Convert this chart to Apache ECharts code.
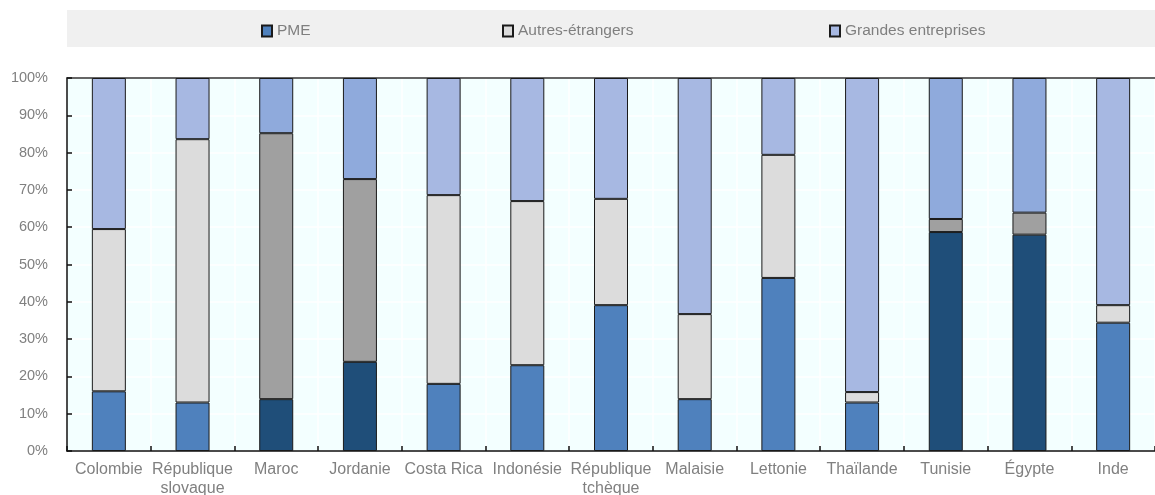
<!DOCTYPE html>
<html>
<head>
<meta charset="utf-8">
<script src="https://cdn.jsdelivr.net/npm/echarts@6/dist/echarts.min.js"></script>
<style>
  html, body { margin: 0; padding: 0; background: #fff; }
  #chart { width: 1155px; height: 495px; }
</style>
</head>
<body>
<div id="chart"></div>
<script>
// Répartition (%) par type d'entreprise et par pays
const countries = ['Colombie', 'République slovaque', 'Maroc', 'Jordanie', 'Costa Rica', 'Indonésie',
  'République tchèque', 'Malaisie', 'Lettonie', 'Thaïlande', 'Tunisie', 'Égypte', 'Inde'];
const pme     = [16.0, 13.0, 13.9, 23.9, 18.0, 23.0, 39.1, 13.9, 46.4, 13.0, 58.7, 58.0, 34.4];
const autres  = [43.5, 70.6, 71.3, 49.0, 50.6, 44.0, 28.5, 22.8, 33.0,  2.8,  3.5,  5.9,  4.7];
const grandes = [40.5, 16.4, 14.8, 27.1, 31.4, 33.0, 32.4, 63.3, 20.6, 84.2, 37.8, 36.1, 60.9];
// Pays dessinés avec la palette foncée
const darkCountries = ['Maroc', 'Jordanie', 'Tunisie', 'Égypte'];
const yTicks = [0, 10, 20, 30, 40, 50, 60, 70, 80, 90, 100];

const FONT = '"Liberation Sans", Arial, sans-serif';
const palette = {
  pme:     { normal: '#4F81BD', dark: '#1F4E79' },
  autres:  { normal: '#DCDCDC', dark: '#A0A0A0' },
  grandes: { normal: '#A7B8E2', dark: '#8FAADC' }
};

function items(values, key) {
  return values.map((v, i) => ({
    value: v,
    itemStyle: { color: darkCountries.includes(countries[i]) ? palette[key].dark : palette[key].normal }
  }));
}

function makeSeries(name, values, key) {
  return {
    name: name,
    type: 'bar',
    stack: 'total',
    barWidth: 34,
    itemStyle: { color: palette[key].normal, borderColor: '#1a1a1a', borderWidth: 1 },
    emphasis: { disabled: true },
    data: items(values, key)
  };
}

function legendAt(name, left) {
  return {
    data: [name],
    left: left,
    top: 23,
    padding: 0,
    itemWidth: 10,
    itemHeight: 11,
    icon: 'rect',
    selectedMode: false,
    textStyle: { fontFamily: FONT, fontSize: 15.5, color: '#7F7F7F' }
  };
}

const chart = echarts.init(document.getElementById('chart'), null, { renderer: 'canvas' });
chart.setOption({
  animation: false,
  graphic: [{
    type: 'rect',
    shape: { x: 67, y: 10, width: 1088, height: 37 },
    style: { fill: '#F0F0F0' },
    z: -10
  }],
  legend: [
    legendAt('PME', 261),
    legendAt('Autres-étrangers', 502),
    legendAt('Grandes entreprises', 829)
  ],
  grid: {
    left: 67, right: 0, top: 78, bottom: 44,
    outerBoundsMode: 'none',
    containLabel: false,
    show: true, backgroundColor: '#F3FFFF', borderWidth: 0
  },
  xAxis: [{
    type: 'category',
    data: countries,
    axisLine: { lineStyle: { color: '#111', width: 1.5 } },
    axisTick: { show: true, inside: true, length: 5, lineStyle: { color: '#111', width: 1.5 } },
    splitLine: { show: true, lineStyle: { color: '#FFFFFF', width: 1.5 } },
    axisLabel: {
      fontFamily: FONT, fontSize: 16, color: '#808080', margin: 9,
      lineHeight: 19, interval: 0,
      formatter: v => (v.length > 12 ? v.replace(' ', '\n') : v)
    }
  }, {
    type: 'category',
    data: countries,
    position: 'top',
    axisLine: { show: true, lineStyle: { color: '#333', width: 1.5 } },
    axisTick: { show: false },
    axisLabel: { show: false },
    splitLine: { show: false }
  }],
  yAxis: {
    type: 'value',
    min: yTicks[0],
    max: yTicks[yTicks.length - 1],
    interval: 10,
    axisLine: { show: true, lineStyle: { color: '#111', width: 1.5 } },
    axisTick: { show: true, inside: true, length: 5, lineStyle: { color: '#111', width: 1.5 } },
    splitLine: { show: true, lineStyle: { color: '#FFFFFF', width: 1.5 } },
    axisLabel: {
      fontFamily: FONT, fontSize: 14.5, color: '#808080', margin: 19,
      formatter: v => v + '%'
    }
  },
  series: [
    makeSeries('PME', pme, 'pme'),
    makeSeries('Autres-étrangers', autres, 'autres'),
    makeSeries('Grandes entreprises', grandes, 'grandes')
  ]
});
</script>
</body>
</html>
